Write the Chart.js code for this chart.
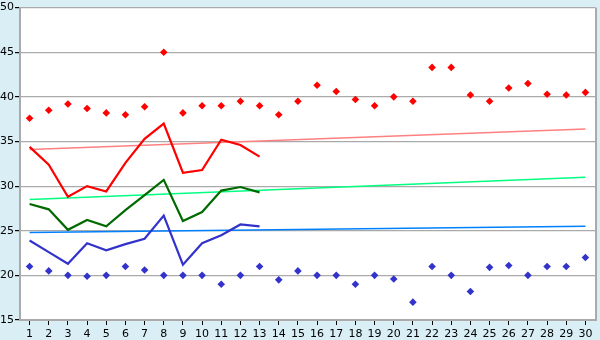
<!DOCTYPE html>
<html>
<head>
<meta charset="utf-8">
<script src="https://cdn.jsdelivr.net/npm/chart.js@4/dist/chart.umd.min.js"></script>
<style>
  html, body { margin: 0; padding: 0; background: #d9eef5; }
  #wrap { width: 600px; height: 340px; }
</style>
</head>
<body>
<div id="wrap"><canvas id="tempChart"></canvas></div>
<script>
const days = [];
for (let d = 1; d <= 30; d++) days.push(String(d));

// daily max / min (diamonds)
const maxTemps = [37.6, 38.5, 39.2, 38.7, 38.2, 38.0, 38.9, 45.0, 38.2, 39.0,
                  39.0, 39.5, 39.0, 38.0, 39.5, 41.3, 40.6, 39.7, 39.0, 40.0,
                  39.5, 43.3, 43.3, 40.2, 39.5, 41.0, 41.5, 40.3, 40.2, 40.5];
const minTemps = [21.0, 20.5, 20.0, 19.9, 20.0, 21.0, 20.6, 20.0, 20.0, 20.0,
                  19.0, 20.0, 21.0, 19.5, 20.5, 20.0, 20.0, 19.0, 20.0, 19.6,
                  17.0, 21.0, 20.0, 18.2, 20.9, 21.1, 20.0, 21.0, 21.0, 22.0];

// measured lines, first 13 days
const highLine = [34.4, 32.4, 28.8, 30.0, 29.4, 32.6, 35.3, 37.0, 31.5, 31.8, 35.2, 34.6, 33.3];
const meanLine = [28.0, 27.4, 25.1, 26.2, 25.5, 27.3, 29.0, 30.7, 26.1, 27.1, 29.5, 29.9, 29.3];
const lowLine  = [23.9, 22.6, 21.3, 23.6, 22.8, 23.5, 24.1, 26.7, 21.2, 23.6, 24.5, 25.7, 25.5];

// trend lines: value at day 1 and day 30
const highTrend = [34.1, 36.4];
const meanTrend = [28.5, 31.0];
const lowTrend  = [24.8, 25.5];

const yTicks = [15, 20, 25, 30, 35, 40, 45, 50];

function trendSeries(ends) {
    const arr = new Array(days.length).fill(null);
    arr[0] = ends[0];
    arr[days.length - 1] = ends[1];
    return arr;
}

const frame = {
    id: 'frame',
    beforeDraw(chart) {
        const { ctx, chartArea: a } = chart;
        ctx.save();
        ctx.fillStyle = '#d9eef5';
        ctx.fillRect(0, 0, chart.width, chart.height);
        ctx.fillStyle = '#ffffff';
        ctx.fillRect(a.left, a.top, a.right - a.left, a.bottom - a.top);
        ctx.restore();
    },
    afterDatasetsDraw(chart) {
        const { ctx, chartArea: a } = chart;
        ctx.save();
        ctx.strokeStyle = '#aaaaaa';
        ctx.lineWidth = 2;
        ctx.beginPath();
        ctx.moveTo(a.right + 1, a.top);
        ctx.lineTo(a.right + 1, a.bottom + 1);
        ctx.stroke();
        ctx.restore();
    }
};

const lineStyle = (color, width) => ({
    borderColor: color, backgroundColor: color, borderWidth: width,
    pointRadius: 0, fill: false, tension: 0
});
const dotStyle = (color) => ({
    borderColor: color, backgroundColor: color, showLine: false,
    pointStyle: 'rectRot', pointRadius: 3.8, borderWidth: 0
});

new Chart(document.getElementById('tempChart'), {
    type: 'line',
    data: {
        labels: days,
        datasets: [
            { data: trendSeries(highTrend), spanGaps: true, order: 5, ...lineStyle('#ff8080', 1.5) },
            { data: trendSeries(meanTrend), spanGaps: true, order: 5, ...lineStyle('#00ff80', 1.5) },
            { data: trendSeries(lowTrend), spanGaps: true, order: 5, ...lineStyle('#0080ff', 1.5) },
            { data: highLine, order: 2, ...lineStyle('#ff0000', 2.2) },
            { data: meanLine, order: 2, ...lineStyle('#006a00', 2.2) },
            { data: lowLine, order: 2, ...lineStyle('#3333cc', 2.2) },
            { data: maxTemps, order: 1, ...dotStyle('#ff0000') },
            { data: minTemps, order: 1, ...dotStyle('#3333cc') }
        ]
    },
    options: {
        responsive: true,
        maintainAspectRatio: false,
        animation: false,
        layout: { padding: { top: 5, right: 5, left: 0, bottom: 0 } },
        plugins: { legend: { display: false }, tooltip: { enabled: false } },
        scales: {
            x: {
                offset: true,
                grid: { offset: false, drawOnChartArea: false, tickLength: 5, tickColor: '#000000' },
                border: { color: '#aaaaaa', width: 2 },
                ticks: { color: '#000000', font: { family: 'DejaVu Sans', size: 11 }, padding: 3, maxRotation: 0, autoSkip: false },
                afterFit(scale) { scale.height = 20; }
            },
            y: {
                min: 15, max: 50,
                afterBuildTicks(scale) { scale.ticks = yTicks.map(v => ({ value: v })); },
                grid: { color: '#aaaaaa', lineWidth: 1.2, tickLength: 5, tickColor: '#000000' },
                border: { color: '#aaaaaa', width: 2 },
                ticks: { color: '#000000', font: { family: 'DejaVu Sans', size: 11 }, padding: 1 },
                afterFit(scale) { scale.width = 20; }
            }
        }
    },
    plugins: [frame]
});
</script>
</body>
</html>
